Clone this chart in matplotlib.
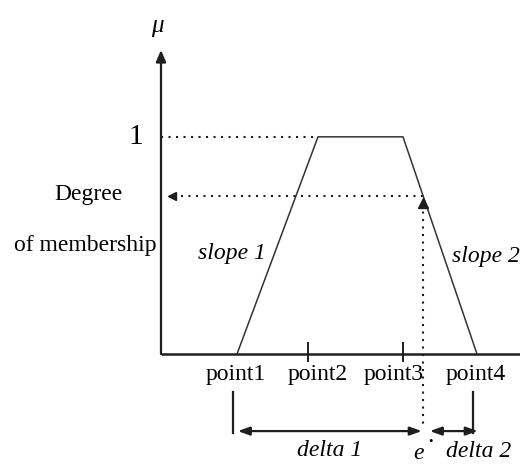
import matplotlib
matplotlib.use("Agg")
import matplotlib.pyplot as plt
import numpy as np

# trapezoidal membership function (universe units, membership degree)
trap_x = [1.9, 3.925, 6.05, 7.9]
trap_mu = [0.0, 1.0, 1.0, 0.0]
# tick marks on the universe axis
tick_x = [3.675, 6.05]
point_labels = ["point1", "point2", "point3", "point4"]
# crisp input e*
e_star = 6.55
mu_e = np.interp(e_star, trap_x, trap_mu)

plt.rcParams["font.family"] = ["Liberation Serif", "DejaVu Serif"]
ink = "#1e1e1e"
dot = (0, (1, 2.6))
fs = 17

fig = plt.figure(figsize=(5.2, 4.68), dpi=100)
ax = fig.add_axes([0.3096, 0.2436, 0.6904, 0.6496])
ax.set_xlim(0, 8.975)
ax.set_ylim(0, 1.40)
ax.axis("off")

# axes: y with arrow, x plain line
ax.annotate("", xy=(0, 1.40), xytext=(0, 0),
            arrowprops=dict(arrowstyle="-|>,head_length=0.7,head_width=0.3",
                            color=ink, lw=1.6, shrinkA=0, shrinkB=0),
            annotation_clip=False)
ax.plot([0, 8.975], [0, 0], color=ink, lw=1.8, clip_on=False,
        solid_capstyle="butt")
for tx in tick_x:
    ax.plot([tx, tx], [-0.03, 0.05], color=ink, lw=1.4, clip_on=False)

# membership function
ax.plot(trap_x, trap_mu, color="#333333", lw=1.1)

# dotted guide lines
ax.plot([0, trap_x[1]], [1, 1], color=ink, lw=1.5, ls=dot)
ax.plot([e_star, 0.27], [mu_e, mu_e], color=ink, lw=1.5, ls=dot)
ax.plot([0.27], [mu_e], marker="<", ms=6, color=ink, clip_on=False)
ax.plot([e_star, e_star], [mu_e - 0.04, -0.335], color=ink, lw=1.5, ls=dot,
        clip_on=False)
ax.plot([e_star], [mu_e - 0.035], marker="^", ms=7, color=ink)

# labels on the axes
ax.text(-0.1, 1.51, "\u03bc", fontsize=18, style="italic", ha="center",
        va="center")
ax.text(-0.62, 1.0, "1", fontsize=21, ha="center", va="center")
ax.text(-1.82, 0.735, "Degree", fontsize=fs, ha="center", va="center")
ax.text(-0.1, 0.50, "of membership", fontsize=fs, ha="right", va="center")
ax.text(0.92, 0.465, "slope 1", fontsize=fs, style="italic", ha="left",
        va="center")
ax.text(7.27, 0.447, "slope 2", fontsize=fs, style="italic", ha="left",
        va="center")

# point labels under the axis
label_x = [trap_x[0], tick_x[0], tick_x[1], trap_x[3]]
label_dx = [-1, 7, -7, -1]
for lx, dx, lab in zip(label_x, label_dx, point_labels):
    ax.annotate(lab, xy=(lx, -0.095), xytext=(dx, 0),
                textcoords="offset points", fontsize=fs, ha="center",
                va="center", annotation_clip=False)

# delta brackets
for bx in [trap_x[0], trap_x[3]]:
    ax.plot([bx - 0.1, bx - 0.1], [-0.175, -0.365], color=ink, lw=1.6,
            clip_on=False)
arrow = dict(arrowstyle="<|-|>,head_length=0.7,head_width=0.25", color=ink,
             lw=1.6, shrinkA=0, shrinkB=0)
ax.annotate("", xy=(trap_x[0] + 0.02, -0.355), xytext=(e_star - 0.03, -0.355),
            arrowprops=arrow, annotation_clip=False)
ax.annotate("", xy=(e_star + 0.17, -0.355), xytext=(trap_x[3] + 0.02, -0.355),
            arrowprops=arrow, annotation_clip=False)

ax.text((trap_x[0] + e_star) / 2, -0.445, "delta 1", fontsize=fs,
        style="italic", ha="center", va="center")
ax.text(e_star - 0.1, -0.46, "e", fontsize=fs, style="italic", ha="center",
        va="center")
ax.text(e_star + 0.2, -0.405, "\u2022", fontsize=9, ha="center", va="center")
ax.text(7.95, -0.45, "delta 2", fontsize=fs, style="italic", ha="center",
        va="center")

fig.savefig("out.png", dpi=100)
